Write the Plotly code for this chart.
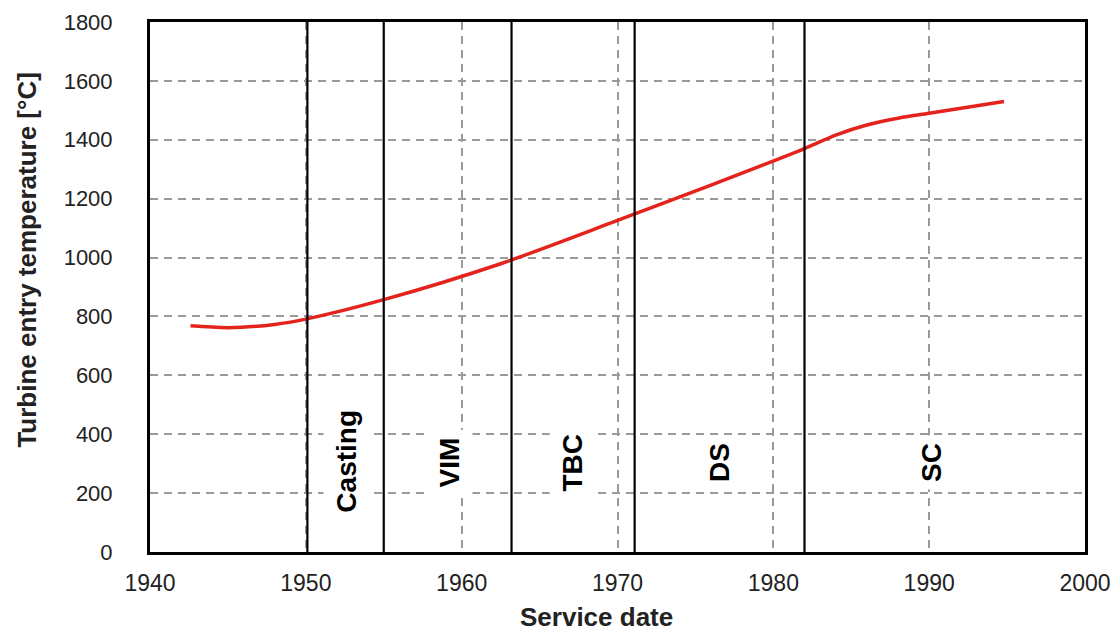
import plotly.graph_objects as go

# Turbine entry temperature over service date
service_year = [1942.6, 1945.0, 1948.0, 1950.0, 1955.0, 1962.5, 1970.0, 1976.0,
                1982.0, 1984.0, 1986.0, 1988.0, 1990.0, 1994.8]
entry_temp = [768, 762, 773, 791, 857, 979, 1126, 1246,
              1370, 1416, 1450, 1473, 1490, 1530]

# Technology eras: boundaries and labels
era_bounds = [1950.1, 1955.0, 1963.2, 1971.1, 1982.0]
era_labels = ["Casting", "VIM", "TBC", "DS", "SC"]
era_label_x = [1952.6, 1959.2, 1967.1, 1976.5, 1990.1]
era_label_y = [308, 305, 305, 305, 305]

x_ticks = [1940, 1950, 1960, 1970, 1980, 1990, 2000]
y_ticks = [0, 200, 400, 600, 800, 1000, 1200, 1400, 1600, 1800]

FONT = "Liberation Sans, Arial, sans-serif"

fig = go.Figure()

fig.add_trace(go.Scatter(
    x=service_year, y=entry_temp, mode="lines",
    line=dict(color="#E4231D", width=3.5, shape="spline", smoothing=0.8),
    hoverinfo="skip", showlegend=False,
))

for xb in era_bounds:
    fig.add_shape(type="line", xref="x", yref="paper", x0=xb, x1=xb, y0=0, y1=1,
                  line=dict(color="black", width=2.2), layer="above")

for lbl, lx, ly in zip(era_labels, era_label_x, era_label_y):
    fig.add_annotation(x=lx, y=ly, xref="x", yref="y", text=f"<b>{lbl}</b>", showarrow=False,
                       textangle=-90, bgcolor="white", borderpad=7,
                       font=dict(family=FONT, size=28, color="black"))

fig.add_annotation(xref="paper", yref="paper", x=(596 - 150) / 935, y=-0.122,
                   text="<b>Service date</b>", showarrow=False,
                   xanchor="center", yanchor="middle",
                   font=dict(family=FONT, size=26, color="#222"))
fig.add_annotation(xref="paper", yref="paper", x=-0.132, y=(552 - 260) / 530,
                   text="<b>Turbine entry temperature [°C]</b>", showarrow=False,
                   textangle=-90, xanchor="center", yanchor="middle",
                   font=dict(family=FONT, size=26, color="#222"))

grid_style = dict(showgrid=True, gridcolor="#9a9a9a", gridwidth=2, griddash="8px,6px",
                  zeroline=False, showline=True, linecolor="black", linewidth=3,
                  mirror=True, ticks="", automargin=False, ticklabeloverflow="allow")

fig.update_xaxes(range=[1940, 2000], tickvals=x_ticks, ticklabelstandoff=8,
                 tickfont=dict(family=FONT, size=23, color="#222"),
                 **grid_style)
fig.update_yaxes(range=[0, 1800], tickvals=y_ticks, ticklabelstandoff=30,
                 tickfont=dict(family=FONT, size=22, color="#222"),
                 **grid_style)

fig.update_layout(
    width=1115, height=633,
    margin=dict(l=150, r=30, t=22, b=81),
    paper_bgcolor="white", plot_bgcolor="white",
    showlegend=False,
)

fig.write_html("out.html")
